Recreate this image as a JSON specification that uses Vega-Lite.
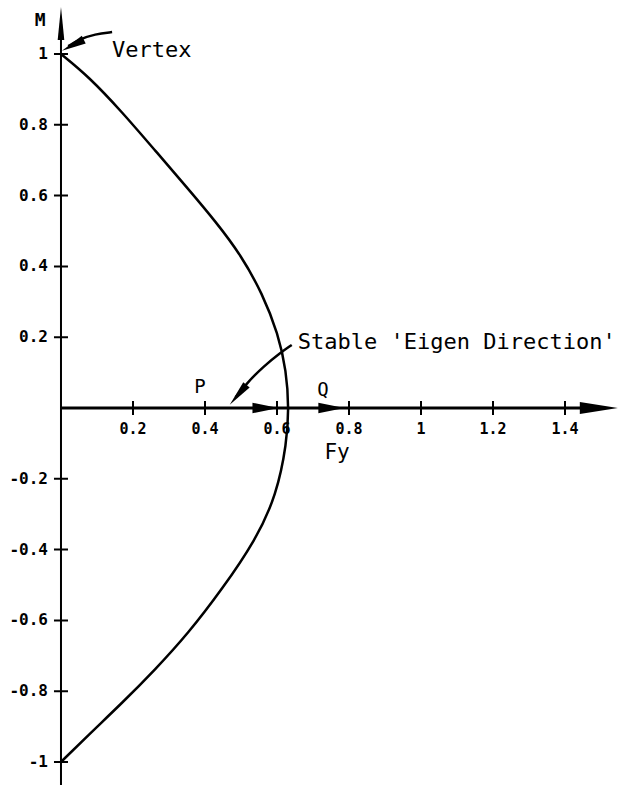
{
  "$schema": "https://vega.github.io/schema/vega-lite/v6.json",
  "width": 619,
  "height": 797,
  "autosize": {"type": "none"},
  "padding": 0,
  "background": "white",
  "config": {"view": {"stroke": null}},
  "datasets": {
    "curve": [
      {"i": 0, "x": 0.0, "y": 1.0},
      {"i": 1, "x": 0.076, "y": 0.937},
      {"i": 2, "x": 0.169, "y": 0.837},
      {"i": 3, "x": 0.261, "y": 0.728},
      {"i": 4, "x": 0.354, "y": 0.618},
      {"i": 5, "x": 0.43, "y": 0.526},
      {"i": 6, "x": 0.5, "y": 0.432},
      {"i": 7, "x": 0.56, "y": 0.322},
      {"i": 8, "x": 0.603, "y": 0.21},
      {"i": 9, "x": 0.626, "y": 0.105},
      {"i": 10, "x": 0.633, "y": 0.0},
      {"i": 11, "x": 0.627, "y": -0.1},
      {"i": 12, "x": 0.599, "y": -0.245},
      {"i": 13, "x": 0.541, "y": -0.373},
      {"i": 14, "x": 0.446, "y": -0.514},
      {"i": 15, "x": 0.354, "y": -0.636},
      {"i": 16, "x": 0.261, "y": -0.74},
      {"i": 17, "x": 0.169, "y": -0.834},
      {"i": 18, "x": 0.08, "y": -0.92},
      {"i": 19, "x": 0.0, "y": -1.0}
    ],
    "yaxis": [{"x": 0, "y": -1.065, "x2": 0, "y2": 1.09}],
    "xaxis": [{"x": 0, "y": 0, "x2": 1.47, "y2": 0}],
    "yticks": [
      {"x": 0, "y": 1, "label": "1"},
      {"x": 0, "y": 0.8, "label": "0.8"},
      {"x": 0, "y": 0.6, "label": "0.6"},
      {"x": 0, "y": 0.4, "label": "0.4"},
      {"x": 0, "y": 0.2, "label": "0.2"},
      {"x": 0, "y": -0.2, "label": "-0.2"},
      {"x": 0, "y": -0.4, "label": "-0.4"},
      {"x": 0, "y": -0.6, "label": "-0.6"},
      {"x": 0, "y": -0.8, "label": "-0.8"},
      {"x": 0, "y": -1, "label": "-1"}
    ],
    "xticks": [
      {"x": 0.2, "y": 0, "label": "0.2"},
      {"x": 0.4, "y": 0, "label": "0.4"},
      {"x": 0.6, "y": 0, "label": "0.6"},
      {"x": 0.8, "y": 0, "label": "0.8"},
      {"x": 1.0, "y": 0, "label": "1"},
      {"x": 1.2, "y": 0, "label": "1.2"},
      {"x": 1.4, "y": 0, "label": "1.4"}
    ],
    "pointers": [
      {"arrow": "vertex", "i": 0, "x": 0.142, "y": 1.062},
      {"arrow": "vertex", "i": 1, "x": 0.094, "y": 1.056},
      {"arrow": "vertex", "i": 2, "x": 0.053, "y": 1.042},
      {"arrow": "vertex", "i": 3, "x": 0.02, "y": 1.022},
      {"arrow": "eigen", "i": 0, "x": 0.641, "y": 0.178},
      {"arrow": "eigen", "i": 1, "x": 0.608, "y": 0.155},
      {"arrow": "eigen", "i": 2, "x": 0.562, "y": 0.117},
      {"arrow": "eigen", "i": 3, "x": 0.516, "y": 0.07},
      {"arrow": "eigen", "i": 4, "x": 0.485, "y": 0.03}
    ],
    "flowHeads": [
      {"x": 0.568, "y": 0},
      {"x": 0.751, "y": 0}
    ],
    "vertexHead": [{"x": 0.033, "y": 1.025}],
    "eigenHead": [{"x": 0.492, "y": 0.037}],
    "yEnd": [{"x": 0, "y": 1.086}],
    "xEnd": [{"x": 1.494, "y": 0}],
    "notes": [
      {"x": 0.142, "y": 1.011, "label": "Vertex"},
      {"x": 0.658, "y": 0.186, "label": "Stable 'Eigen Direction'"}
    ],
    "points": [
      {"x": 0.386, "y": 0.059, "label": "P"},
      {"x": 0.728, "y": 0.051, "label": "Q"}
    ],
    "axisTitles": [
      {"x": -0.058, "y": 1.093, "label": "M"}
    ],
    "fyTitle": [
      {"x": 0.767, "y": -0.127, "label": "Fy"}
    ]
  },
  "encoding": {
    "x": {"field": "x", "type": "quantitative", "scale": {"domain": [-0.1694, 1.55], "nice": false, "zero": false}, "axis": null},
    "y": {"field": "y", "type": "quantitative", "scale": {"domain": [-1.0989, 1.1525], "nice": false, "zero": false}, "axis": null}
  },
  "layer": [
    {
      "data": {"name": "yaxis"},
      "mark": {"type": "rule", "color": "black", "strokeWidth": 2},
      "encoding": {"x2": {"field": "x2"}, "y2": {"field": "y2"}}
    },
    {
      "data": {"name": "xaxis"},
      "mark": {"type": "rule", "color": "black", "strokeWidth": 3},
      "encoding": {"x2": {"field": "x2"}, "y2": {"field": "y2"}}
    },
    {
      "data": {"name": "yticks"},
      "mark": {"type": "tick", "orient": "horizontal", "color": "black", "size": 14, "thickness": 2, "opacity": 1}
    },
    {
      "data": {"name": "yticks"},
      "mark": {"type": "text", "align": "right", "baseline": "middle", "dx": -13, "font": "DejaVu Sans Mono", "fontWeight": "bold", "fontSize": 16, "color": "black"},
      "encoding": {"text": {"field": "label"}}
    },
    {
      "data": {"name": "xticks"},
      "mark": {"type": "tick", "orient": "vertical", "color": "black", "size": 14, "thickness": 2, "opacity": 1}
    },
    {
      "data": {"name": "xticks"},
      "mark": {"type": "text", "align": "center", "baseline": "middle", "dy": 21, "font": "DejaVu Sans Mono", "fontWeight": "bold", "fontSize": 15, "color": "black"},
      "encoding": {"text": {"field": "label"}}
    },
    {
      "data": {"name": "curve"},
      "mark": {"type": "line", "color": "black", "strokeWidth": 2.5, "interpolate": "basis"},
      "encoding": {"order": {"field": "i"}}
    },
    {
      "data": {"name": "pointers"},
      "mark": {"type": "line", "color": "black", "strokeWidth": 2.5, "interpolate": "basis"},
      "encoding": {"detail": {"field": "arrow"}, "order": {"field": "i"}}
    },
    {
      "data": {"name": "flowHeads"},
      "mark": {"type": "point", "filled": true, "color": "black", "opacity": 1, "shape": "M1,-0.45L1,0.45M1,0L-1,-0.4L-1,0.4Z", "size": 676, "strokeWidth": 1.5}
    },
    {
      "data": {"name": "vertexHead"},
      "mark": {"type": "point", "filled": true, "color": "black", "opacity": 1, "shape": "M1,0L-1,-0.35L-1,0.35Z", "size": 600, "angle": 153}
    },
    {
      "data": {"name": "eigenHead"},
      "mark": {"type": "point", "filled": true, "color": "black", "opacity": 1, "shape": "M1,0L-1,-0.32L-1,0.32Z", "size": 676, "angle": 130}
    },
    {
      "data": {"name": "yEnd"},
      "mark": {"type": "point", "filled": true, "color": "black", "opacity": 1, "shape": "M0,-1L-0.2,1L0.2,1Z", "size": 1089}
    },
    {
      "data": {"name": "xEnd"},
      "mark": {"type": "point", "filled": true, "color": "black", "opacity": 1, "shape": "M1,0L-1,-0.32L-1,0.32Z", "size": 1444}
    },
    {
      "data": {"name": "notes"},
      "mark": {"type": "text", "align": "left", "baseline": "middle", "font": "DejaVu Sans Mono", "fontSize": 22, "color": "black"},
      "encoding": {"text": {"field": "label"}}
    },
    {
      "data": {"name": "points"},
      "mark": {"type": "text", "align": "center", "baseline": "middle", "font": "DejaVu Sans Mono", "fontSize": 19, "color": "black"},
      "encoding": {"text": {"field": "label"}}
    },
    {
      "data": {"name": "axisTitles"},
      "mark": {"type": "text", "align": "center", "baseline": "middle", "font": "DejaVu Sans Mono", "fontWeight": "bold", "fontSize": 18, "color": "black"},
      "encoding": {"text": {"field": "label"}}
    },
    {
      "data": {"name": "fyTitle"},
      "mark": {"type": "text", "align": "center", "baseline": "middle", "font": "DejaVu Sans Mono", "fontSize": 21, "color": "black"},
      "encoding": {"text": {"field": "label"}}
    }
  ]
}
